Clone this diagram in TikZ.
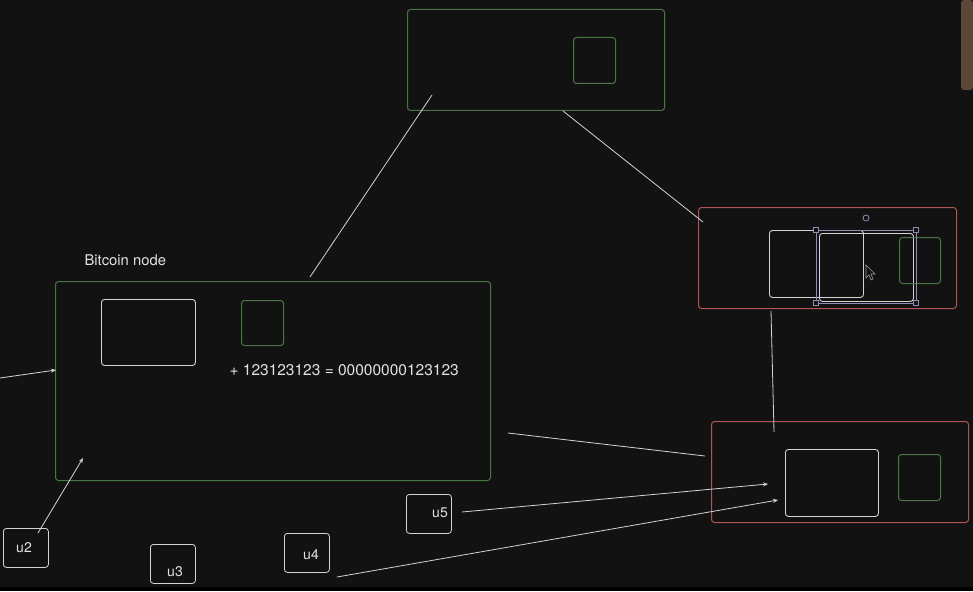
\documentclass[tikz,border=0pt]{standalone}
\usepackage{fontspec}
\setmainfont{TeX Gyre Heros}
\usetikzlibrary{arrows.meta}

\definecolor{bgdark}{HTML}{121212}
\definecolor{boxgreen}{HTML}{4A7845}
\definecolor{boxred}{HTML}{AE5655}
\definecolor{linegray}{HTML}{D4D4D4}
\definecolor{textwhite}{HTML}{E2E2E2}
\definecolor{selblue}{HTML}{8C8CB4}
\definecolor{photobrown}{HTML}{5C4838}

\tikzset{
  greenbox/.style={draw=boxgreen, rounded corners=3pt, line width=1pt, inner sep=0pt, anchor=north west},
  redbox/.style={draw=boxred, rounded corners=3pt, line width=1pt, inner sep=0pt, anchor=north west},
  whitebox/.style={draw=linegray, rounded corners=3pt, line width=0.9pt, inner sep=0pt, anchor=north west},
  ubox/.style={draw=linegray, rounded corners=3pt, line width=0.8pt, inner sep=0pt, anchor=north west, minimum width=45, minimum height=39},
  utext/.style={text=textwhite, font=\fontsize{14}{16}\selectfont},
  handle/.style={draw=selblue, fill=bgdark, line width=0.8pt, minimum size=5, inner sep=0pt},
  link/.style={draw=linegray, line width=0.8pt},
  arrowlink/.style={link, -{Stealth[length=5pt,width=4pt]}}
}

\begin{document}
\begin{tikzpicture}[x=1pt, y=-1pt]
  \fill[bgdark] (0,0) rectangle (973,591);
  \useasboundingbox (0,0) rectangle (973,591);
  \fill[black] (0,587) rectangle (973,591);
  \fill[photobrown, rounded corners=3pt] (973,0) -- (961,0) -- (961,90) -- (973,90) -- cycle;

  % top block
  \node[greenbox, minimum width=257, minimum height=101] (top) at (407,9) {};
  \node[greenbox, minimum width=42, minimum height=46] (topkey) at (573,37) {};

  % bitcoin node
  \node[text=textwhite, font=\fontsize{14.8}{17}\selectfont, anchor=base west] (title) at (81,265) {Bitcoin node};
  \node[greenbox, minimum width=435, minimum height=199] (btc) at (55,281) {};
  \node[whitebox, minimum width=94, minimum height=66] (btcblock) at (101,299) {};
  \node[greenbox, minimum width=42, minimum height=45] (btckey) at (241,300) {};
  \node[text=textwhite, font=\fontsize{15.5}{18}\selectfont, anchor=base west] (hash) at (226,375) {+ 123123123 = 00000000123123};

  % red block one, with the selection
  \node[redbox, minimum width=258, minimum height=101] (redA) at (698,207) {};
  \node[whitebox, minimum width=94, minimum height=67] (redAblock) at (769,230) {};
  \node[whitebox, minimum width=94, minimum height=68] (redAcopy) at (819,233) {};
  \node[greenbox, minimum width=41, minimum height=46] (redAkey) at (899,237) {};
  \draw[selblue, line width=0.9pt] (816,230) rectangle (916,303);
  \foreach \hx/\hy in {816/230, 916/230, 816/303, 916/303}
    \node[handle] at (\hx,\hy) {};
  \node[draw=selblue, circle, line width=0.8pt, minimum size=6, inner sep=0pt] (rot) at (866,218) {};
  \draw[fill=bgdark, draw=gray!80, line width=0.6pt] (866,265) -- (866,278) -- (869,275) -- (871,280) -- (873,279) -- (871,274) -- (875,274) -- cycle;

  % red block two
  \node[redbox, minimum width=257, minimum height=101] (redB) at (711,421) {};
  \node[whitebox, minimum width=93, minimum height=67] (redBblock) at (785,449) {};
  \node[greenbox, minimum width=42, minimum height=46] (redBkey) at (898,454) {};

  % users
  \node[ubox] (u2) at (3,528) {};
  \node[utext] at (24,548) {u2};
  \node[ubox] (u3) at (150,544) {};
  \node[utext] at (175,572) {u3};
  \node[ubox] (u4) at (284,533) {};
  \node[utext] at (311,555) {u4};
  \node[ubox] (u5) at (406,494) {};
  \node[utext] at (440,513) {u5};

  % connector ends
  \coordinate (inL) at (0,378);
  \coordinate (btcin) at (56,370);
  \coordinate (u2out) at (38,533);
  \coordinate (btcin2) at (83,458);
  \coordinate (btcup) at (310,277);
  \coordinate (topdown) at (432,95);
  \coordinate (topout) at (563,111);
  \coordinate (redAin) at (703,222);
  \coordinate (redAout) at (771,311);
  \coordinate (redBtop) at (774,432);
  \coordinate (btcout) at (508,433);
  \coordinate (redBin) at (705,456);
  \coordinate (u5out) at (462,512);
  \coordinate (redBin2) at (768,484);
  \coordinate (u4out) at (337,577);
  \coordinate (redBin3) at (778,500);

  % connectors
  \draw[arrowlink] (inL) -- (btcin);
  \draw[arrowlink] (u2out) -- (btcin2);
  \draw[link] (btcup) -- (topdown);
  \draw[link] (topout) -- (redAin);
  \draw[link] (redAout) -- (redBtop);
  \draw[link] (btcout) -- (redBin);
  \draw[arrowlink] (u5out) -- (redBin2);
  \draw[arrowlink] (u4out) -- (redBin3);
\end{tikzpicture}
\end{document}
